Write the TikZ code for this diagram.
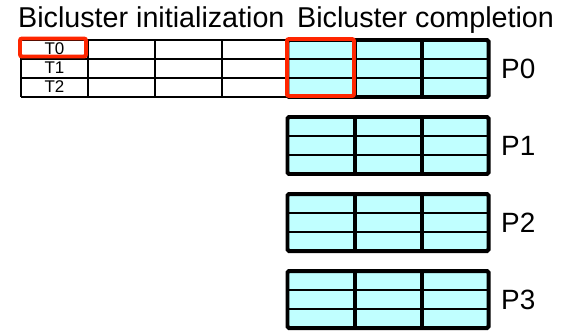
\documentclass[tikz,border=0pt]{standalone}
\usepackage{fontspec}
\setmainfont{Liberation Sans}
\definecolor{cellcyan}{RGB}{192,255,255}
\definecolor{hired}{RGB}{255,38,0}
\tikzset{
  titletext/.style={inner sep=0pt, anchor=base west, font=\fontsize{28.8}{30}\selectfont},
  plabel/.style={inner sep=0pt, anchor=west, font=\fontsize{28}{30}\selectfont},
  tlabel/.style={inner sep=0pt, font=\fontsize{17}{18}\selectfont},
  thinline/.style={line width=1.6},
  rowline/.style={line width=2},
  colline/.style={line width=3.5},
  outerline/.style={line width=4, rounded corners=1.5},
  redbox/.style={draw=hired, line width=4, rounded corners=2}
}
\begin{document}
\begin{tikzpicture}[x=1bp,y=-1bp]
\useasboundingbox (0,0) rectangle (567,332);
% titles
\node[titletext] (t1) at (18,27) {Bicluster initialization};
\node[titletext] (t2) at (297,27) {Bicluster completion};
% left table
\foreach \yy in {40,59,78,97} \draw[thinline] (21,\yy) -- (288,\yy);
\foreach \xx in {21,88,155,222} \draw[thinline] (\xx,40) -- (\xx,97);
\node[tlabel] (T0) at (54.5,49) {T0};
\node[tlabel] (T1) at (54.5,68) {T1};
\node[tlabel] (T2) at (54.5,87) {T2};
% cyan blocks
\foreach \top/\lab in {40/P0,117/P1,194/P2,271/P3} {
  \fill[cellcyan] (287.5,\top) rectangle (488.5,\top+57);
  \draw[rowline] (287.5,\top+19) -- (488.5,\top+19);
  \draw[rowline] (287.5,\top+38) -- (488.5,\top+38);
  \draw[colline] (355,\top) -- (355,\top+57);
  \draw[colline] (422,\top) -- (422,\top+57);
  \draw[outerline] (287.5,\top) rectangle (488.5,\top+57);
  \node[plabel] (\lab) at (501,\top+28.5) {\lab};
}
% red highlight boxes
\draw[redbox] (20,38.5) rectangle (86,56.5);
\draw[redbox] (287,39) rectangle (354,96);
\end{tikzpicture}
\end{document}
